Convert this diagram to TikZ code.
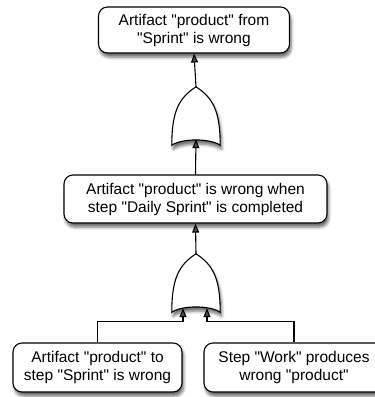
\documentclass[tikz,border=0pt]{standalone}
\usepackage{fontspec}
\setmainfont{Liberation Sans}[Ligatures=TeXOff]
\usetikzlibrary{arrows.meta,shadows.blur}
\begin{document}
\begin{tikzpicture}[x=1pt,y=-1pt,
  evt/.style={draw=black, line width=1.1pt, rounded corners=9pt, fill=white, align=center,
    font=\fontsize{15.5}{18}\selectfont, inner sep=0pt,
    blur shadow={shadow xshift=1.5pt, shadow yshift=-4pt, shadow opacity=60, shadow blur steps=5, shadow blur radius=3pt}},
  gatebox/.style={inner sep=0pt, minimum width=48pt, minimum height=58pt},
  gateline/.style={draw=black, line width=1.1pt, fill=white,
    blur shadow={shadow xshift=1.5pt, shadow yshift=-4pt, shadow opacity=60, shadow blur steps=5, shadow blur radius=3pt}},
  arr/.style={line width=1.1pt, -{Triangle[length=9pt,width=7pt]}},
  con/.style={line width=1.1pt}
]
\useasboundingbox (0,0) rectangle (375,397);

\node[evt, minimum width=191pt, minimum height=46pt] (top) at (194,30) {Artifact "product" from\\"Sprint" is wrong};
\node[evt, minimum width=263pt, minimum height=48pt] (mid) at (195.5,199) {Artifact "product" is wrong when\\step "Daily Sprint" is completed};
\node[evt, minimum width=169pt, minimum height=49pt] (lb) at (97.5,367.5) {Artifact "product" to\\step "Sprint" is wrong};
\node[evt, minimum width=180pt, minimum height=49pt] (rb) at (294,367.5) {Step "Work" produces\\wrong "product"};

\node[gatebox] (g1) at (196,116) {};
\node[gatebox] (g2) at (196,283) {};

\foreach \g in {g1,g2}{
  \path[gateline] (\g.south west) .. controls ([yshift=34pt]\g.south west) and ([xshift=-17pt,yshift=-11pt]\g.north) .. (\g.north)
    .. controls ([xshift=17pt,yshift=-11pt]\g.north) and ([yshift=34pt]\g.south east) .. (\g.south east)
    .. controls ([xshift=-10pt,yshift=7pt]\g.south east) and ([xshift=10pt,yshift=7pt]\g.south west) .. (\g.south west) -- cycle;
}

\coordinate (g1in) at ([yshift=6pt]g1.south);
\coordinate (g2inl) at ([xshift=-13pt,yshift=4pt]g2.south);
\coordinate (g2inr) at ([xshift=11pt,yshift=4pt]g2.south);
\coordinate (bendl) at ([yshift=-13pt]g2inl);
\coordinate (bendr) at ([yshift=-13pt]g2inr);

\draw[arr] (g1.north) -- (top.south);
\draw[arr] (mid.north) -- (g1in);
\draw[arr] (g2.north) -- (mid.south);
\draw[arr] (lb.north) |- (bendl) -- (g2inl);
\draw[arr] (rb.north) |- (bendr) -- (g2inr);
\end{tikzpicture}
\end{document}
